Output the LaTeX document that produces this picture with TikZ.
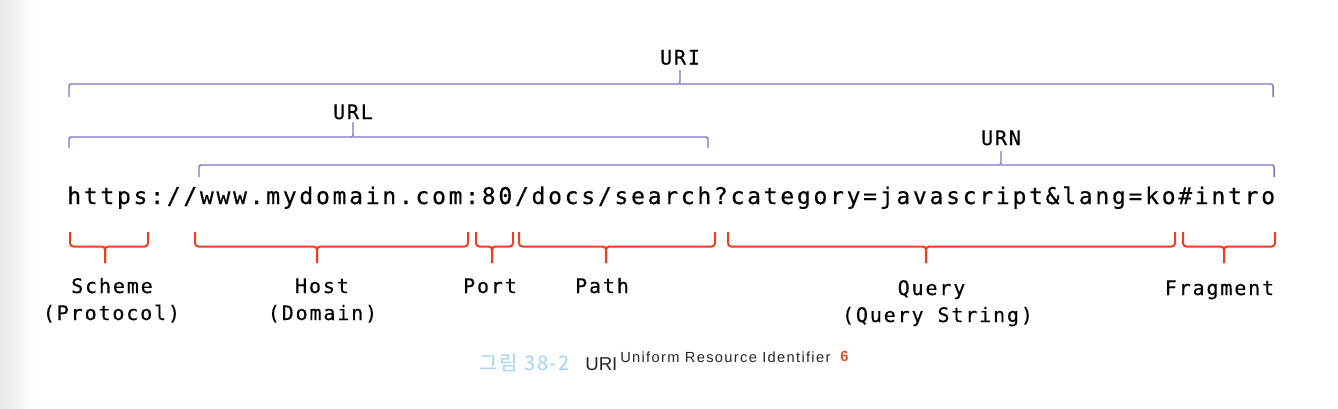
\documentclass[tikz,border=0pt]{standalone}
\usepackage{fontspec}
\newfontfamily\urlfont[LetterSpace=11.9,FakeBold=0.4]{DejaVu Sans Mono}
\newfontfamily\lblfont[LetterSpace=9.3,FakeBold=0.3]{DejaVu Sans Mono}
\newfontfamily\kofont[LetterSpace=9]{Noto Sans CJK KR}
\newfontfamily\capfont{Liberation Sans}
\newfontfamily\capsupfont[LetterSpace=9]{Liberation Sans}
\definecolor{purp}{RGB}{125,115,200}
\definecolor{brred}{RGB}{238,62,32}
\definecolor{capblue}{RGB}{160,212,240}
\definecolor{capred}{RGB}{225,80,30}
\newcommand\myPbrack[6]{% left x, right x, centre x, line y, end y, tick y
  \draw[purpline] (#1,#5) |- (#3,#4) -- (#3,#6);
  \draw[purpline] (#2,#5) |- (#3,#4);}
\newcommand\myRbrack[3]{% left x, right x, centre x
  \draw[redline] (#1,232) |- (#3,246.5) -- (#3,263);
  \draw[redline] (#2,232) |- (#3,246.5) -- (#3,263);}
\begin{document}
\begin{tikzpicture}[x=0.75pt,y=-0.75pt,
  purpline/.style={draw=purp,line width=1.1pt,rounded corners=1.5pt},
  redline/.style={draw=brred,line width=1.5pt,rounded corners=2.5pt},
  urltext/.style={inner sep=0pt,anchor=base west,font=\urlfont\fontsize{17.25pt}{20pt}\selectfont,text=black},
  lbl/.style={inner sep=0pt,anchor=base,font=\lblfont\fontsize{15pt}{19pt}\selectfont,text=black},
  captext/.style={inner sep=0pt,anchor=base west}]
\useasboundingbox (0,0) rectangle (1338,408);
\shade[left color=black!9,right color=white] (0,0) rectangle (35,408);

% URL string
\node[urltext] (url) at (67,204) {https://www.mydomain.com:80/docs/search?category=javascript\&lang=ko\#intro};

% purple brackets
\myPbrack{69}{1273}{680}{84}{97}{70}
\myPbrack{69}{708}{353}{137}{148}{122}
\myPbrack{199}{1274}{1001}{165}{177}{151}
\node[lbl] (uri) at (680,64.5) {URI};
\node[lbl] (urlb) at (353,119) {URL};
\node[lbl] (urn) at (1001,145) {URN};

% red brackets
\myRbrack{70}{148}{105}
\myRbrack{195}{468}{317}
\myRbrack{476}{513}{492}
\myRbrack{519}{715}{606}
\myRbrack{728}{1175}{926}
\myRbrack{1183}{1275}{1224}

\node[lbl] (scheme) at (112,293) {Scheme};
\node[lbl] (proto) at (111.5,320) {(Protocol)};
\node[lbl] (host) at (322,293) {Host};
\node[lbl] (domain) at (322.5,320) {(Domain)};
\node[lbl] (port) at (490,293) {Port};
\node[lbl] (path) at (602,293) {Path};
\node[lbl] (query) at (931.5,295) {Query};
\node[lbl] (qstr) at (937.5,322) {(Query String)};
\node[lbl] (frag) at (1219.5,295) {Fragment};

% caption
\node[captext,font=\kofont\fontsize{15pt}{18pt}\selectfont,text=capblue] (cap1) at (479,370) {그림 38-2};
\node[captext,font=\capfont\fontsize{14pt}{16pt}\selectfont,text=black!85] (cap2) at (585,370) {URI};
\node[captext,font=\capsupfont\fontsize{11pt}{13pt}\selectfont,text=black!85] (cap3) at (620,362) {Uniform Resource Identifier};
\node[captext,font=\capfont\bfseries\fontsize{11pt}{13pt}\selectfont,text=capred] (cap4) at (840,361) {6};
\end{tikzpicture}
\end{document}
